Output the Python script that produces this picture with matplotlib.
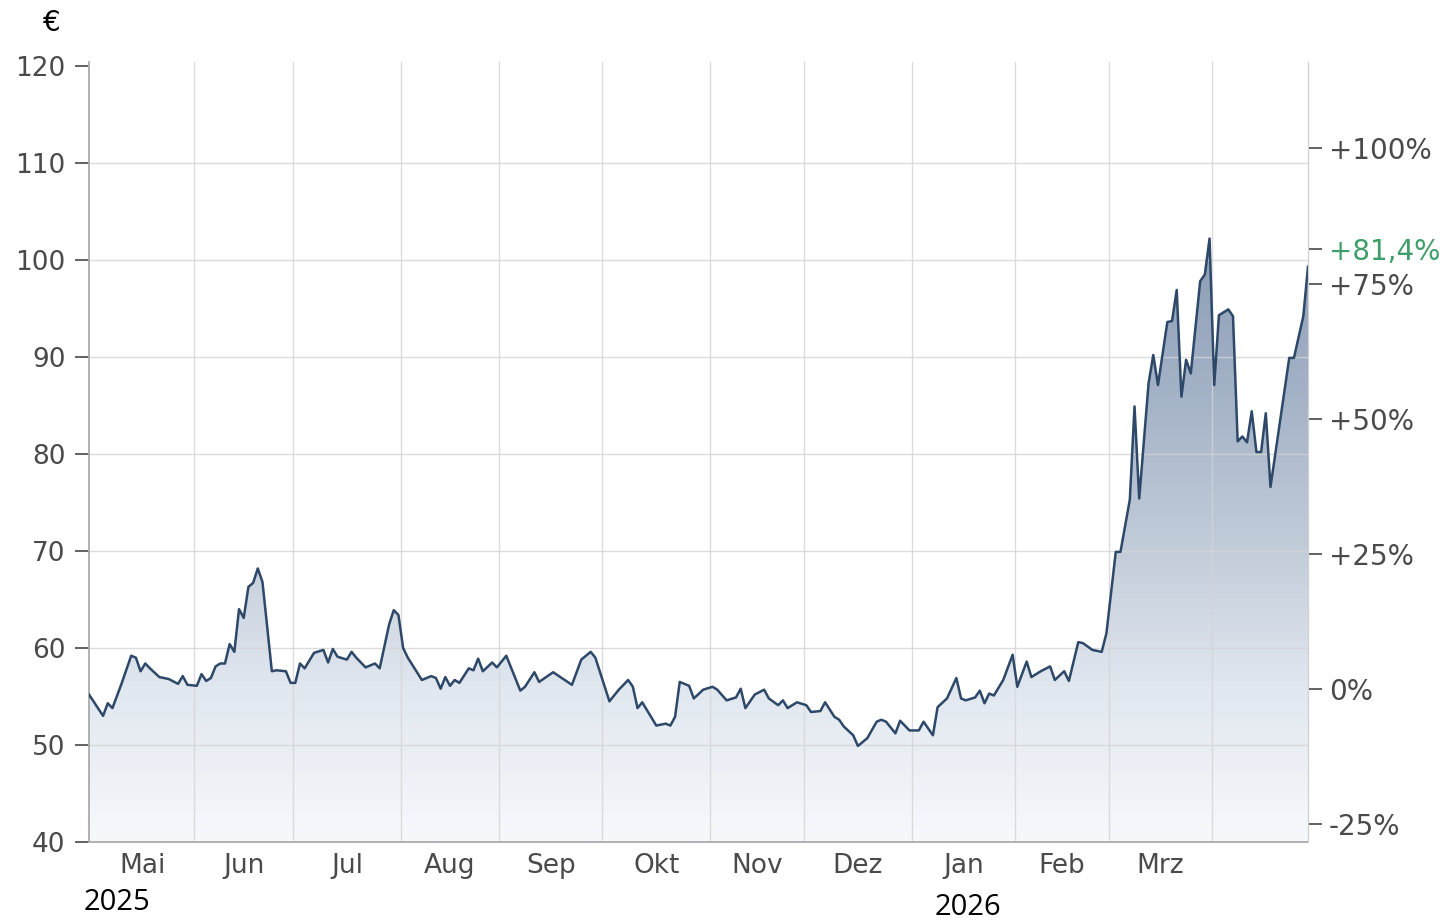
import numpy as np
import matplotlib
matplotlib.use("Agg")
import matplotlib.pyplot as plt
from matplotlib.colors import LinearSegmentedColormap
from matplotlib.patches import Polygon
from matplotlib.transforms import blended_transform_factory

# Closing prices (EUR), vertices
dates = [
    "2025-04-30", "2025-05-05", "2025-05-06", "2025-05-07", "2025-05-09", "2025-05-13", "2025-05-14",
    "2025-05-15", "2025-05-16", "2025-05-19", "2025-05-21", "2025-05-23", "2025-05-27", "2025-05-28",
    "2025-05-29", "2025-06-02", "2025-06-03", "2025-06-04", "2025-06-05", "2025-06-06", "2025-06-09",
    "2025-06-10", "2025-06-11", "2025-06-12", "2025-06-13", "2025-06-16", "2025-06-17", "2025-06-18",
    "2025-06-19", "2025-06-20", "2025-06-24", "2025-06-25", "2025-06-27", "2025-06-30", "2025-07-01",
    "2025-07-02", "2025-07-03", "2025-07-07", "2025-07-09", "2025-07-10", "2025-07-11", "2025-07-14",
    "2025-07-16", "2025-07-17", "2025-07-18", "2025-07-22", "2025-07-24", "2025-07-25", "2025-07-29",
    "2025-07-30", "2025-07-31", "2025-08-01", "2025-08-04", "2025-08-07", "2025-08-11", "2025-08-12",
    "2025-08-13", "2025-08-14", "2025-08-15", "2025-08-18", "2025-08-19", "2025-08-21", "2025-08-22",
    "2025-08-25", "2025-08-26", "2025-08-28", "2025-08-29", "2025-09-02", "2025-09-05", "2025-09-08",
    "2025-09-10", "2025-09-11", "2025-09-16", "2025-09-22", "2025-09-24", "2025-09-26", "2025-09-29",
    "2025-10-02", "2025-10-06", "2025-10-08", "2025-10-09", "2025-10-10", "2025-10-13", "2025-10-16",
    "2025-10-20", "2025-10-21", "2025-10-22", "2025-10-23", "2025-10-27", "2025-10-28", "2025-10-30",
    "2025-11-03", "2025-11-04", "2025-11-06", "2025-11-10", "2025-11-11", "2025-11-12", "2025-11-14",
    "2025-11-18", "2025-11-19", "2025-11-21", "2025-11-24", "2025-11-25", "2025-11-27", "2025-12-01",
    "2025-12-02", "2025-12-04", "2025-12-05", "2025-12-09", "2025-12-10", "2025-12-11", "2025-12-15",
    "2025-12-16", "2025-12-18", "2025-12-22", "2025-12-23", "2025-12-24", "2025-12-26", "2025-12-29",
    "2025-12-31", "2026-01-02", "2026-01-05", "2026-01-07", "2026-01-08", "2026-01-12", "2026-01-14",
    "2026-01-15", "2026-01-16", "2026-01-20", "2026-01-21", "2026-01-22", "2026-01-23", "2026-01-26",
    "2026-01-28", "2026-01-30", "2026-02-02", "2026-02-04", "2026-02-05", "2026-02-09", "2026-02-11",
    "2026-02-12", "2026-02-16", "2026-02-17", "2026-02-19", "2026-02-20", "2026-02-24", "2026-02-26",
    "2026-02-27", "2026-03-03", "2026-03-04", "2026-03-06", "2026-03-09", "2026-03-10", "2026-03-12",
    "2026-03-13", "2026-03-16", "2026-03-18", "2026-03-19", "2026-03-20", "2026-03-23", "2026-03-24",
    "2026-03-25", "2026-03-27", "2026-03-30", "2026-03-31", "2026-04-01", "2026-04-02", "2026-04-06",
    "2026-04-07", "2026-04-08", "2026-04-09", "2026-04-10", "2026-04-13", "2026-04-14", "2026-04-15",
    "2026-04-16", "2026-04-17", "2026-04-23", "2026-04-24", "2026-04-28", "2026-04-29",
]
prices = [
    55.2, 53.0, 54.3, 53.8, 56.4, 59.2, 59.0,
    57.6, 58.4, 57.9, 57.0, 56.8, 56.3, 57.1,
    56.2, 56.1, 57.3, 56.6, 56.9, 58.1, 58.4,
    58.4, 60.4, 59.6, 64.0, 63.1, 66.3, 66.7,
    68.2, 66.8, 57.6, 57.7, 57.6, 56.4, 56.4,
    58.4, 57.9, 59.5, 59.8, 58.5, 59.9, 59.1,
    58.8, 59.6, 59.0, 58.0, 58.4, 57.9, 62.4,
    63.9, 63.4, 60.0, 59.0, 56.7, 57.1, 56.9,
    55.8, 57.0, 56.1, 56.7, 56.4, 57.9, 57.7,
    58.9, 57.6, 58.5, 58.0, 59.2, 55.6, 56.0,
    57.5, 56.5, 57.5, 56.2, 58.8, 59.6, 59.0,
    54.5, 55.7, 56.7, 56.0, 53.8, 54.4, 52.0,
    52.2, 52.0, 52.9, 56.5, 56.1, 54.8, 55.7,
    56.0, 55.7, 54.6, 54.9, 55.8, 53.8, 55.2,
    55.7, 54.8, 54.1, 54.6, 53.8, 54.4, 54.1,
    53.4, 53.5, 54.4, 52.9, 52.6, 51.9, 51.0,
    49.9, 50.7, 52.4, 52.6, 52.4, 51.2, 52.5,
    51.5, 51.5, 52.4, 51.0, 53.9, 54.8, 56.9,
    54.8, 54.6, 54.9, 55.6, 54.3, 55.3, 55.1,
    56.7, 59.3, 56.0, 58.6, 57.0, 57.6, 58.1,
    56.7, 57.6, 56.6, 60.6, 60.5, 59.8, 59.6,
    61.5, 69.9, 69.9, 75.3, 84.9, 75.4, 87.3,
    90.2, 87.1, 93.6, 93.7, 96.9, 85.9, 89.7,
    88.3, 97.8, 98.5, 102.2, 87.1, 94.3, 94.9,
    94.2, 81.3, 81.8, 81.2, 84.4, 80.2, 80.2,
    84.2, 76.6, 89.9, 89.9, 94.2, 99.3,
]

base_price = 55.75          # price corresponding to 0 %
pct_ticks = [-25, 0, 25, 50, 75, 100]
pct_labels = ["-25%", "0%", "+25%", "+50%", "+75%", "+100%"]
current_pct = 81.4
current_label = "+81,4%"
month_starts = ["2025-05-01", "2025-06-01", "2025-07-01", "2025-08-01", "2025-09-01", "2025-10-01",
                "2025-11-01", "2025-12-01", "2026-01-01", "2026-02-01", "2026-03-01", "2026-04-01"]
month_labels = ["Mai", "Jun", "Jul", "Aug", "Sep", "Okt", "Nov", "Dez", "Jan", "Feb", "Mrz"]

plt.rcParams['font.family'] = ['DejaVu Sans']

# x axis runs over weekdays only
start = np.datetime64("2025-04-30")
x = np.busday_count(start, np.array(dates, dtype="datetime64[D]"))
y = np.array(prices)
bounds = np.busday_count(start, np.array(month_starts, dtype="datetime64[D]")) - 0.5
mids = (bounds[:-1] + bounds[1:]) / 2

ymin, ymax = 40, 120.4
fig = plt.figure(figsize=(14.48, 9.21), dpi=100)
ax = fig.add_axes([89 / 1448, 1 - 842 / 921, (1308 - 89) / 1448, 780 / 921])

# gradient fill under the line
cmap = LinearSegmentedColormap.from_list("fill", [
    (0.0, "#f6f9fc"), (0.19, "#e2e8f0"), (0.37, "#c3cdda"),
    (0.56, "#a6b4c8"), (0.75, "#8e9fb7"), (1.0, "#8193ad")])
grad = np.linspace(ymin, ymax, 400).reshape(-1, 1)
im = ax.imshow(grad, extent=[x[0], x[-1], ymin, ymax], origin="lower", aspect="auto",
               cmap=cmap, vmin=ymin, vmax=ymax, zorder=1)
clip = Polygon(np.column_stack([np.r_[x, x[-1], x[0]], np.r_[y, ymin, ymin]]),
               closed=True, transform=ax.transData, facecolor="none", edgecolor="none")
ax.add_patch(clip)
im.set_clip_path(clip)

ax.plot(x, y, color="#2d4868", lw=1.8, zorder=4)

# grid
for b in bounds[1:]:
    ax.axvline(b, color="#d4d4d4", lw=1, alpha=0.8, zorder=2)
for lvl in range(50, 120, 10):
    ax.axhline(lvl, color="#d4d4d4", lw=1, alpha=0.8, zorder=2)

ax.set_xlim(0, 260)
ax.set_ylim(ymin, ymax)
ax.set_yticks(range(40, 121, 10))
ax.tick_params(axis="y", direction="out", length=10, width=1.3, color="#555555",
               labelsize=19, labelcolor="#4a4a4a", pad=7)
ax.set_xticks(mids)
ax.set_xticklabels(month_labels)
ax.tick_params(axis="x", length=0, labelsize=19, labelcolor="#4a4a4a", pad=8)

ax.spines["top"].set_visible(False)
ax.spines["left"].set_color("#aaaaaa")
ax.spines["bottom"].set_color("#aaaaaa")
ax.spines["right"].set_color("#d0d0d0")
ax.spines["left"].set_linewidth(1.3)
ax.spines["bottom"].set_linewidth(1.3)

# right axis in percent relative to base price
ax2 = ax.twinx()
ax2.set_ylim((ymin / base_price - 1) * 100, (ymax / base_price - 1) * 100)
ax2.set_yticks(pct_ticks + [current_pct])
ax2.set_yticklabels(pct_labels + [current_label])
ax2.tick_params(axis="y", direction="out", length=10, width=1.3, color="#555555",
                labelsize=20, labelcolor="#4a4a4a", pad=5)
ax2.get_yticklabels()[-1].set_color("#3f9e6a")
for side in ["top", "left", "bottom"]:
    ax2.spines[side].set_visible(False)
ax2.spines["right"].set_color("#d0d0d0")

# currency and year labels
fig.text(52 / 1448, 1 - 23 / 921, "€", ha="center", va="center", fontsize=20, color="black")
trans = blended_transform_factory(ax.transData, fig.transFigure)
ax.text(6, 1 - 902 / 921, "2025", transform=trans, ha="center", va="center",
        fontsize=21, family="Open Sans", color="black")
ax.text(mids[8] + 1, 1 - 907 / 921, "2026", transform=trans, ha="center", va="center",
        fontsize=21, family="Open Sans", color="black")

fig.savefig("out.png", dpi=100)
